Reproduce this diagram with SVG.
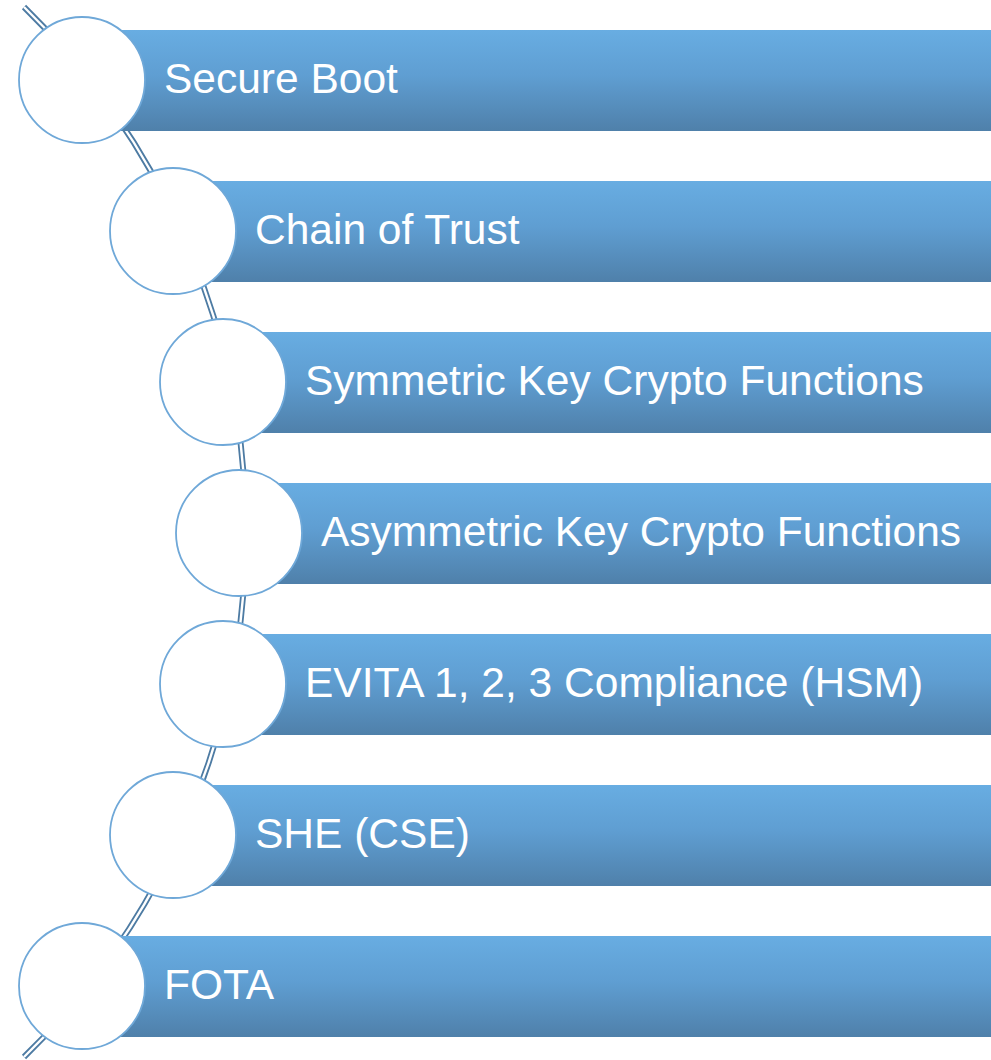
<svg xmlns="http://www.w3.org/2000/svg" width="991" height="1060" viewBox="0 0 991 1060">
  <defs>
    <linearGradient id="barFill" x1="0" y1="0" x2="0" y2="1">
      <stop offset="0" stop-color="#68ade2"/>
      <stop offset="0.45" stop-color="#5f9ed2"/>
      <stop offset="1" stop-color="#4f80aa"/>
    </linearGradient>
    <style>
      .bar { fill: url(#barFill); }
      .dot { fill: #ffffff; stroke: #6fa8d8; stroke-width: 1.8; }
      .label { font-family: "Liberation Sans", Arial, sans-serif; font-size: 42.5px; fill: #ffffff; }
      .rail-outer { fill: none; stroke: #4d7ba3; stroke-width: 6; }
      .rail-inner { fill: none; stroke: #ffffff; stroke-width: 2.4; }
    </style>
  </defs>
  <rect width="991" height="1060" fill="#ffffff"/>

  <!-- curved rail through all circle centres (arc centre -493,533, r 732) -->
  <g id="connectors">
    <path class="rail-outer" d="M 24 7 A 732 732 0 0 1 24 1057"/>
    <path class="rail-inner" d="M 24 7 A 732 732 0 0 1 24 1057"/>
  </g>

  <g id="node-secure-boot">
    <rect class="bar" x="82" y="30" width="909" height="101"/>
    <circle class="dot" cx="82" cy="80" r="63"/>
    <text class="label" x="164" y="93">Secure Boot</text>
  </g>
  <g id="node-chain-of-trust">
    <rect class="bar" x="173" y="181" width="818" height="101"/>
    <circle class="dot" cx="173" cy="231" r="63"/>
    <text class="label" x="255" y="244">Chain of Trust</text>
  </g>
  <g id="node-symmetric">
    <rect class="bar" x="223" y="332" width="768" height="101"/>
    <circle class="dot" cx="223" cy="382" r="63"/>
    <text class="label" x="305" y="395">Symmetric Key Crypto Functions</text>
  </g>
  <g id="node-asymmetric">
    <rect class="bar" x="239" y="483" width="752" height="101"/>
    <circle class="dot" cx="239" cy="533" r="63"/>
    <text class="label" x="321" y="546">Asymmetric Key Crypto Functions</text>
  </g>
  <g id="node-evita">
    <rect class="bar" x="223" y="634" width="768" height="101"/>
    <circle class="dot" cx="223" cy="684" r="63"/>
    <text class="label" x="305" y="697">EVITA 1, 2, 3 Compliance (HSM)</text>
  </g>
  <g id="node-she">
    <rect class="bar" x="173" y="785" width="818" height="101"/>
    <circle class="dot" cx="173" cy="835" r="63"/>
    <text class="label" x="255" y="848">SHE (CSE)</text>
  </g>
  <g id="node-fota">
    <rect class="bar" x="82" y="936" width="909" height="101"/>
    <circle class="dot" cx="82" cy="986" r="63"/>
    <text class="label" x="164" y="999">FOTA</text>
  </g>
</svg>
